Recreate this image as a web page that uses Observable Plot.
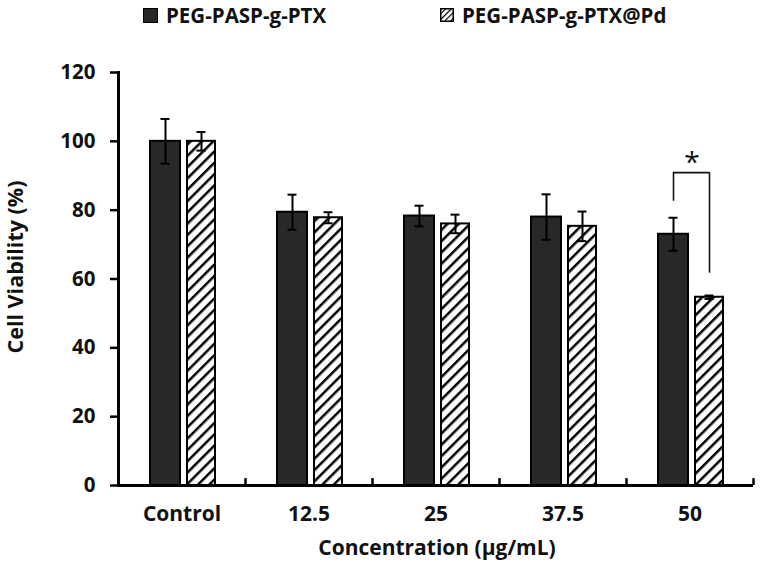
<!DOCTYPE html>
<html>
<head>
<meta charset="utf-8">
<script src="https://cdn.jsdelivr.net/npm/d3@7"></script>
<script src="https://cdn.jsdelivr.net/npm/@observablehq/plot@0.6"></script>
<style>
  body { margin: 0; background: #fff; font-family: "Open Sans", Lato, sans-serif; }
  #legend { position: relative; height: 36px; width: 760px; font-weight: bold; font-size: 20.5px; color: #111; }
  .item { position: absolute; top: 1px; display: flex; align-items: center; line-height: 28px; }
  .item svg { margin-right: 8px; }
</style>
</head>
<body>
<div id="legend"></div>
<div id="chart"></div>
<script>
const categories = ["Control", "12.5", "25", "37.5", "50"];
const seriesNames = ["PEG-PASP-g-PTX", "PEG-PASP-g-PTX@Pd"];
const meanA = [100, 79.4, 78.3, 78.0, 73.0];
const errA  = [6.5, 5.1, 3.0, 6.6, 4.8];
const meanB = [100, 77.8, 76.0, 75.3, 54.7];
const errB  = [2.7, 1.6, 2.7, 4.3, 0.5];
const yTicks = [0, 20, 40, 60, 80, 100, 120];
// significance bracket between the two bars of "50"
const sigCategory = "50";
const sigTop = 90.9, sigLeftBottom = 82.6, sigRightBottom = 61.7, sigStarY = 95.5;

const rowsA = categories.map((c, i) => ({c, v: meanA[i], e: errA[i]}));
const rowsB = categories.map((c, i) => ({c, v: meanB[i], e: errB[i]}));

const W = 760, H = 535, mL = 118, mR = 7, mT = 36, mB = 86;
const bw = (W - mL - mR) / categories.length; // 127
// bar layout within a band (pixels)
const a0 = 32, a1 = 62, b0 = 69, b1 = 97;
const aC = (a0 + a1) / 2, bC = (b0 + b1) / 2;
const cap = 4.5;
const FONT = "'Open Sans', Lato, sans-serif";

const plot = Plot.plot({
  width: W, height: H,
  marginLeft: mL, marginRight: mR, marginTop: mT, marginBottom: mB,
  style: {fontFamily: FONT, background: "#fff"},
  x: {type: "band", domain: categories, padding: 0, label: null},
  y: {domain: [0, 120], label: null},
  marks: [
    // bars
    Plot.barY(rowsA, {x: "c", y: "v", fill: "#282828", stroke: "#000", strokeWidth: 2, insetLeft: a0, insetRight: bw - a1}),
    Plot.barY(rowsB, {x: "c", y: "v", fill: "url(#hatch)", stroke: "#000", strokeWidth: 2, insetLeft: b0, insetRight: bw - b1}),
    // error bars
    Plot.ruleX(rowsA, {x: "c", y1: d => d.v - d.e, y2: d => d.v + d.e, dx: aC - bw / 2, stroke: "#000", strokeWidth: 2}),
    Plot.tickY(rowsA, {x: "c", y: d => d.v - d.e, insetLeft: aC - cap, insetRight: bw - aC - cap, stroke: "#000", strokeWidth: 2}),
    Plot.tickY(rowsA, {x: "c", y: d => d.v + d.e, insetLeft: aC - cap, insetRight: bw - aC - cap, stroke: "#000", strokeWidth: 2}),
    Plot.ruleX(rowsB, {x: "c", y1: d => d.v - d.e, y2: d => d.v + d.e, dx: bC - bw / 2, stroke: "#000", strokeWidth: 2}),
    Plot.tickY(rowsB, {x: "c", y: d => d.v - d.e, insetLeft: bC - cap, insetRight: bw - bC - cap, stroke: "#000", strokeWidth: 2}),
    Plot.tickY(rowsB, {x: "c", y: d => d.v + d.e, insetLeft: bC - cap, insetRight: bw - bC - cap, stroke: "#000", strokeWidth: 2}),
    // significance bracket
    Plot.ruleX([sigCategory], {x: d => d, y1: sigLeftBottom, y2: sigTop, dx: aC - bw / 2, stroke: "#111", strokeWidth: 1.6}),
    Plot.ruleX([sigCategory], {x: d => d, y1: sigRightBottom, y2: sigTop, dx: bC - bw / 2, stroke: "#111", strokeWidth: 1.6}),
    Plot.tickY([sigCategory], {x: d => d, y: sigTop, insetLeft: aC, insetRight: bw - bC, stroke: "#111", strokeWidth: 1.6}),
    Plot.text([sigCategory], {x: d => d, y: sigStarY, text: () => "*", dx: 2, dy: 6, fontSize: 28, fill: "#111"}),
    // x axis: line, boundary ticks, labels
    Plot.ruleY([0], {stroke: "#000", strokeWidth: 3}),
    Plot.ruleX(categories, {x: d => d, y1: 0, y2: 2, dx: bw / 2, stroke: "#000", strokeWidth: 2.5}),
    Plot.axisX({tickSize: 0, tickPadding: 21, fontSize: 21, fontWeight: "bold", fill: "#111", label: null}),
    Plot.text(["Concentration (μg/mL)"], {frameAnchor: "bottom", lineAnchor: "middle", dy: 63, dx: 1, text: d => d, fontSize: 21, fontWeight: "bold", fill: "#111"}),
    // y axis
    Plot.frame({anchor: "left", stroke: "#000", strokeWidth: 3}),
    Plot.axisY({ticks: yTicks, tickSize: 8, tickPadding: 15, fontSize: 20.5, fontWeight: "bold", fill: "#111", stroke: "#000", strokeWidth: 2.5, label: null}),
    Plot.text(["Cell Viability (%)"], {frameAnchor: "left", textAnchor: "middle", lineAnchor: "middle", dx: -102, dy: -12, rotate: -90, text: d => d, fontSize: 21.5, fontWeight: "bold", fill: "#111"})
  ]
});

// hatch pattern definition
const ns = "http://www.w3.org/2000/svg";
const defs = document.createElementNS(ns, "defs");
defs.innerHTML = `<pattern id="hatch" patternUnits="userSpaceOnUse" width="8" height="8" patternTransform="rotate(45)">
  <rect width="8" height="8" fill="#fff"/>
  <line x1="0" y1="0" x2="0" y2="8" stroke="#000" stroke-width="5"/>
</pattern>
<pattern id="hatchS" patternUnits="userSpaceOnUse" width="4" height="4" patternTransform="rotate(45)">
  <rect width="4" height="4" fill="#fff"/>
  <line x1="0" y1="0" x2="0" y2="4" stroke="#000" stroke-width="2.4"/>
</pattern>`;
plot.insertBefore(defs, plot.firstChild);
document.getElementById("chart").appendChild(plot);

// legend
const legend = document.getElementById("legend");
const swatches = [
  {left: 143, svg: `<svg width="15" height="15"><rect x="0.5" y="0.5" width="14" height="14" fill="#282828" stroke="#000"/></svg>`},
  {left: 440, svg: `<svg width="14" height="14"><rect x="0.75" y="0.75" width="12.5" height="12.5" fill="url(#hatchS)" stroke="#000" stroke-width="1.5"/></svg>`}
];
seriesNames.forEach((name, i) => {
  const div = document.createElement("div");
  div.className = "item";
  div.style.left = swatches[i].left + "px";
  div.innerHTML = swatches[i].svg + `<span>${name}</span>`;
  legend.appendChild(div);
});
</script>
</body>
</html>
